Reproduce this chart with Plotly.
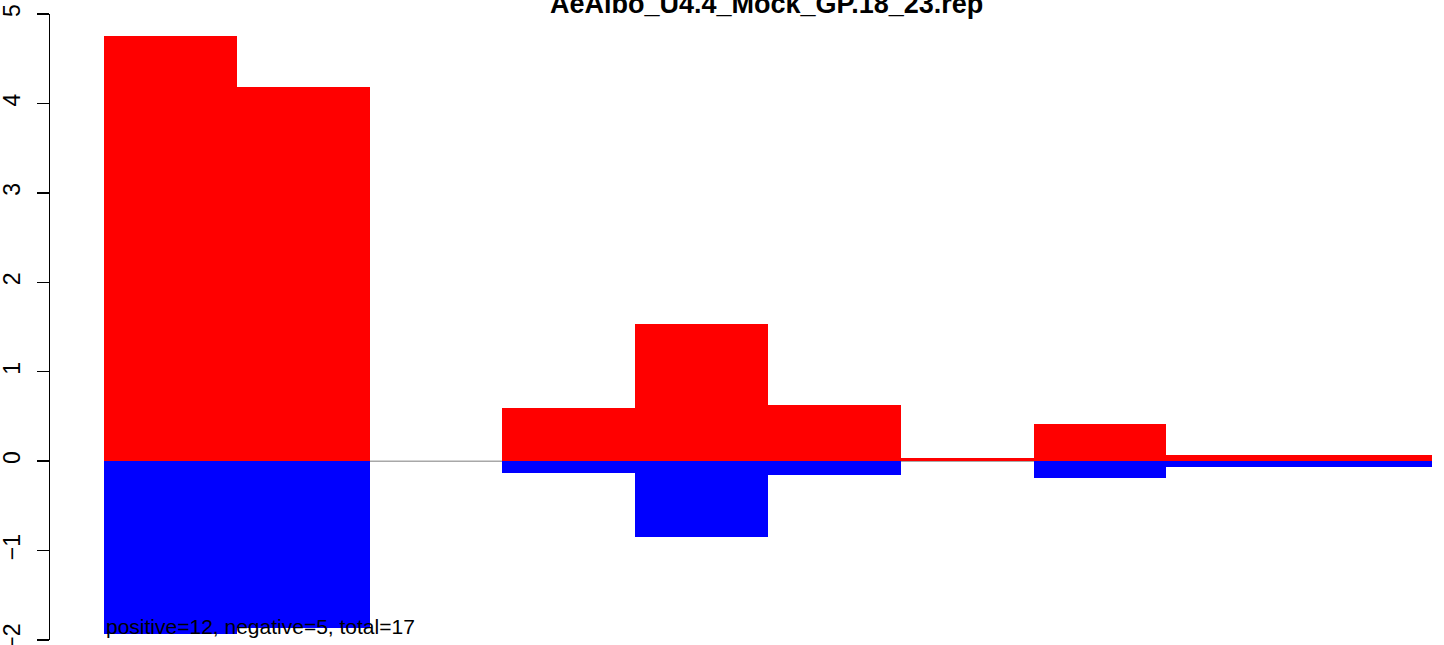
import plotly.graph_objects as go

title_text = "AeAlbo_U4.4_Mock_GP.18_23.rep"
bar_index = [0, 1, 2, 3, 4, 5, 6, 7, 8, 9]
positive_vals = [4.75, 4.18, 0.0, 0.59, 1.53, 0.627, 0.035, 0.415, 0.067, 0.067]
negative_vals = [-1.93, -1.87, 0.0, -0.133, -0.845, -0.155, 0.0, -0.186, -0.063, -0.063]
y_ticks = [-2, -1, 0, 1, 2, 3, 4, 5]
stats_text = "positive=12, negative=5, total=17"

FONT = "Liberation Sans, Arial, Helvetica, sans-serif"
W, H = 1444, 645
ML, MR, MT = 50, 0, 14
plot_bottom = 640
MB = H - plot_bottom
plot_h = H - MT - MB

bar_left_px, bar_right_px = 104, 1432

centers = [i + 0.5 for i in bar_index]

fig = go.Figure()
fig.add_trace(go.Bar(x=centers, y=positive_vals, width=1.0,
                     marker=dict(color="#FF0000", line=dict(width=0)),
                     showlegend=False, hoverinfo="skip"))
fig.add_trace(go.Bar(x=centers, y=negative_vals, width=1.0,
                     marker=dict(color="#0000FF", line=dict(width=0)),
                     showlegend=False, hoverinfo="skip"))

fig.add_shape(type="line", xref="x", yref="y", x0=0, x1=len(bar_index), y0=0, y1=0,
              line=dict(color="#A8A8A8", width=1.5), layer="below")

# Title (partially cut at top, as in reference)
title_bottom_px = 21
fig.add_annotation(text="<b>" + title_text + "</b>", xref="x", yref="paper",
                   x=len(bar_index) / 2, y=1 - (title_bottom_px - MT) / plot_h,
                   xanchor="center", yanchor="bottom", showarrow=False, xshift=-2,
                   font=dict(family=FONT, size=27, color="black"))

# Stats text
stats_bottom_px = 640
fig.add_annotation(text=stats_text, xref="x", yref="paper",
                   x=0, y=1 - (stats_bottom_px - MT) / plot_h,
                   xanchor="left", yanchor="bottom", showarrow=False,
                   font=dict(family=FONT, size=21, color="black"))

px_per_unit = (bar_right_px - bar_left_px) / len(bar_index)
x_lo = -(bar_left_px - ML) / px_per_unit
x_hi = len(bar_index) + (W - MR - bar_right_px) / px_per_unit

fig.update_layout(
    width=W, height=H,
    margin=dict(l=ML, r=MR, t=MT, b=MB, pad=0, autoexpand=False),
    paper_bgcolor="white", plot_bgcolor="white",
    barmode="overlay", bargap=0,
    font=dict(family=FONT, size=21, color="black"),
    xaxis=dict(visible=False, range=[x_lo, x_hi], fixedrange=True, automargin=False),
    yaxis=dict(range=[-2, 5], tickmode="array", tickvals=y_ticks,
               ticktext=[str(v).replace("-", "\u2212") for v in y_ticks],
               ticks="outside", ticklen=12, tickwidth=1.5, tickcolor="black",
               showline=True, linecolor="black", linewidth=1.5,
               showgrid=False, zeroline=False, tickangle=-90,
               ticklabelstandoff=7, automargin=False, ticklabeloverflow="allow",
               fixedrange=True,
               tickfont=dict(family=FONT, size=23, color="black")),
)

fig.write_html("out.html",
               config={"displayModeBar": False, "staticPlot": True},
               post_script="document.body.style.margin='0';document.body.style.padding='0';")
